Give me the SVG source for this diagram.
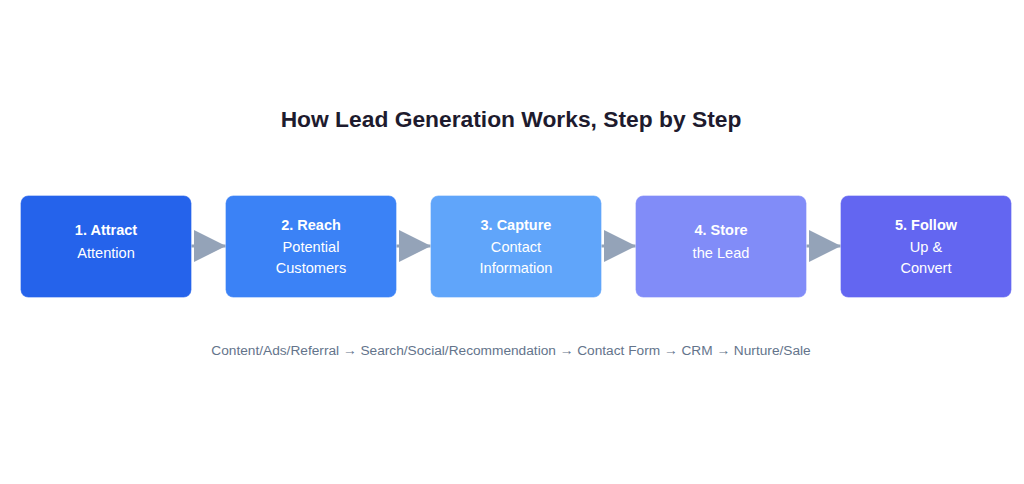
<svg xmlns="http://www.w3.org/2000/svg" width="1024" height="484" viewBox="0 0 1024 484">
<defs>
<style>
.box{stroke:#ffffff;stroke-opacity:0.35;stroke-width:1}
.t{font-family:"Liberation Sans",Arial,sans-serif;fill:#ffffff;text-anchor:middle}
.b{font-weight:bold;font-size:14.5px}
.n{font-size:14.6px}
.conn{stroke:#94a3b8;stroke-width:3;fill:none}
</style>
<marker id="ah" viewBox="0 0 10 10" refX="10" refY="5" markerWidth="10.7" markerHeight="11" markerUnits="strokeWidth" orient="auto">
<path d="M0,0 L10,5 L0,10 Z" fill="#94a3b8"/>
</marker>
</defs>
<rect width="1024" height="484" fill="#ffffff"/>
<text x="511" y="127" font-family="'Liberation Sans',Arial,sans-serif" font-size="22.8" font-weight="bold" fill="#1e1b2e" text-anchor="middle">How Lead Generation Works, Step by Step</text>
<g id="connectors">
<line class="conn" x1="191" y1="246" x2="226" y2="246" marker-end="url(#ah)"/>
<line class="conn" x1="396" y1="246" x2="431" y2="246" marker-end="url(#ah)"/>
<line class="conn" x1="601" y1="246" x2="636" y2="246" marker-end="url(#ah)"/>
<line class="conn" x1="806" y1="246" x2="841" y2="246" marker-end="url(#ah)"/>
</g>
<g id="node1">
<rect class="box" x="20.5" y="195.5" width="171" height="102" rx="8" fill="#2563eb"/>
<text class="t b" x="106" y="235">1. Attract</text>
<text class="t n" x="106" y="258.3">Attention</text>
</g>
<g id="node2">
<rect class="box" x="225.5" y="195.5" width="171" height="102" rx="8" fill="#3b82f6"/>
<text class="t b" x="311" y="229.6">2. Reach</text>
<text class="t n" x="311" y="252.3">Potential</text>
<text class="t n" x="311" y="273">Customers</text>
</g>
<g id="node3">
<rect class="box" x="430.5" y="195.5" width="171" height="102" rx="8" fill="#60a5fa"/>
<text class="t b" x="516" y="229.6">3. Capture</text>
<text class="t n" x="516" y="252.3">Contact</text>
<text class="t n" x="516" y="273">Information</text>
</g>
<g id="node4">
<rect class="box" x="635.5" y="195.5" width="171" height="102" rx="8" fill="#818cf8"/>
<text class="t b" x="721" y="235">4. Store</text>
<text class="t n" x="721" y="258.3">the Lead</text>
</g>
<g id="node5">
<rect class="box" x="840.5" y="195.5" width="171" height="102" rx="8" fill="#6366f1"/>
<text class="t b" x="926" y="229.6">5. Follow</text>
<text class="t n" x="926" y="252.3">Up &amp;</text>
<text class="t n" x="926" y="273">Convert</text>
</g>
<text x="511" y="354.5" font-family="'Liberation Sans',Arial,sans-serif" font-size="13.7" fill="#64748b" text-anchor="middle">Content/Ads/Referral → Search/Social/Recommendation → Contact Form → CRM → Nurture/Sale</text>
</svg>
